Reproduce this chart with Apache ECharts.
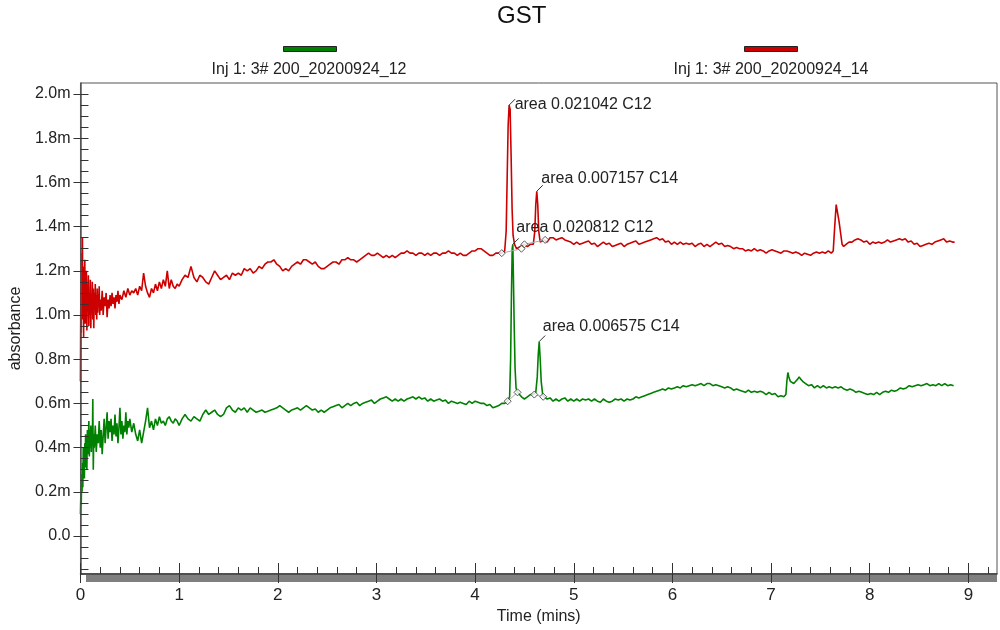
<!DOCTYPE html>
<html>
<head>
<meta charset="utf-8">
<script src="https://cdn.jsdelivr.net/npm/echarts@6/dist/echarts.min.js"></script>
<style>
html,body{margin:0;padding:0;background:#fff;}
#chart{width:1000px;height:630px;}
</style>
</head>
<body>
<div id="chart"></div>
<script>
const chartTitle = 'GST';
const greenName = 'Inj 1: 3# 200_20200924_12';
const redName = 'Inj 1: 3# 200_20200924_14';
const xName = 'Time (mins)';
const yName = 'absorbance';

const xTickValues = [0,1,2,3,4,5,6,7,8,9];
const yTickValues = [0,0.2,0.4,0.6,0.8,1.0,1.2,1.4,1.6,1.8,2.0];
const yTickLabels = ['0.0','0.2m','0.4m','0.6m','0.8m','1.0m','1.2m','1.4m','1.6m','1.8m','2.0m'];

// red trace (…_14): [time, absorbance (m)]
const redTrace = [
[0.000,0.70],[0.004,1.12],[0.008,0.92],[0.012,1.28],[0.016,1.02],[0.020,1.35],[0.024,0.98],[0.028,1.22],[0.032,0.90],[0.036,1.16],
[0.040,1.00],[0.044,1.25],[0.048,0.96],[0.052,1.12],[0.056,1.02],[0.060,1.20],[0.065,0.93],[0.070,1.14],[0.075,1.04],[0.080,1.18],
[0.085,0.95],[0.090,1.10],[0.095,1.00],[0.100,1.16],[0.105,0.94],[0.110,1.08],[0.115,1.02],[0.120,1.15],[0.125,0.98],[0.130,1.12],
[0.135,0.94],[0.140,1.10],[0.145,1.03],[0.150,1.14],[0.155,1.00],[0.160,1.09],[0.165,0.98],[0.170,1.12],[0.175,1.01],[0.180,1.08],
[0.185,1.04],[0.190,1.13],[0.195,1.00],[0.200,1.07],[0.210,1.02],[0.220,1.11],[0.230,1.00],[0.240,1.08],[0.250,1.04],[0.260,1.10],
[0.270,0.99],[0.280,1.07],[0.290,1.03],[0.300,1.09],[0.310,1.04],[0.320,1.10],[0.330,1.05],[0.340,1.08],[0.350,1.03],[0.360,1.09],
[0.370,1.06],[0.380,1.11],[0.390,1.05],[0.400,1.09],[0.420,1.07],[0.440,1.11],[0.460,1.08],[0.480,1.12],[0.500,1.09],[0.520,1.11],
[0.540,1.10],[0.560,1.12],[0.580,1.09],[0.600,1.13],[0.620,1.11],[0.640,1.19],[0.660,1.13],[0.680,1.10],[0.700,1.08],[0.720,1.12],
[0.740,1.10],[0.760,1.14],[0.780,1.11],[0.800,1.15],[0.820,1.12],[0.840,1.16],[0.860,1.13],[0.880,1.20],[0.900,1.12],[0.920,1.16],
[0.940,1.13],[0.960,1.12],[0.980,1.14],[1.000,1.13],[1.030,1.16],[1.060,1.18],[1.090,1.17],[1.120,1.22],[1.150,1.17],[1.180,1.15],
[1.210,1.18],[1.240,1.17],[1.270,1.15],[1.300,1.14],[1.330,1.17],[1.360,1.20],[1.390,1.18],[1.420,1.16],[1.450,1.17],[1.480,1.18],
[1.510,1.16],[1.540,1.19],[1.570,1.18],[1.600,1.19],[1.630,1.18],[1.660,1.21],[1.690,1.20],[1.720,1.21],[1.750,1.19],[1.780,1.20],
[1.810,1.22],[1.840,1.21],[1.870,1.23],[1.900,1.24],[1.930,1.24],[1.960,1.25],[1.990,1.23],[2.020,1.22],[2.050,1.20],[2.080,1.21],
[2.110,1.20],[2.140,1.22],[2.170,1.23],[2.200,1.24],[2.230,1.23],[2.260,1.25],[2.290,1.25],[2.320,1.24],[2.350,1.23],[2.380,1.24],
[2.410,1.22],[2.440,1.21],[2.470,1.21],[2.500,1.22],[2.530,1.23],[2.560,1.24],[2.590,1.24],[2.620,1.23],[2.650,1.25],[2.680,1.25],
[2.710,1.26],[2.740,1.25],[2.770,1.25],[2.800,1.24],[2.830,1.25],[2.860,1.26],[2.890,1.27],[2.920,1.28],[2.950,1.27],[2.980,1.27],
[3.010,1.28],[3.040,1.27],[3.070,1.26],[3.100,1.27],[3.130,1.26],[3.160,1.27],[3.190,1.26],[3.220,1.27],[3.250,1.28],[3.280,1.28],
[3.310,1.29],[3.340,1.28],[3.370,1.28],[3.400,1.27],[3.430,1.28],[3.460,1.28],[3.490,1.27],[3.520,1.28],[3.550,1.27],[3.580,1.28],
[3.610,1.28],[3.640,1.27],[3.670,1.28],[3.700,1.28],[3.730,1.29],[3.760,1.28],[3.790,1.28],[3.820,1.27],[3.850,1.28],[3.880,1.27],
[3.910,1.27],[3.940,1.28],[3.970,1.29],[4.000,1.29],[4.030,1.30],[4.060,1.30],[4.090,1.29],[4.120,1.28],[4.150,1.27],[4.180,1.27],
[4.210,1.28],[4.240,1.28],[4.270,1.28],[4.300,1.29],[4.315,1.38],[4.325,1.62],[4.335,1.86],[4.345,1.95],[4.355,1.93],[4.365,1.72],
[4.375,1.48],[4.385,1.36],[4.400,1.32],[4.420,1.30],[4.440,1.30],[4.460,1.31],[4.480,1.31],[4.500,1.32],[4.530,1.31],[4.560,1.32],
[4.590,1.32],[4.605,1.38],[4.615,1.50],[4.625,1.56],[4.635,1.50],[4.645,1.38],[4.660,1.33],[4.680,1.33],[4.700,1.34],[4.730,1.33],
[4.760,1.35],[4.790,1.35],[4.820,1.34],[4.850,1.345],[4.880,1.35],[4.910,1.34],[4.940,1.335],[4.970,1.33],[5.000,1.32],[5.030,1.33],
[5.060,1.32],[5.090,1.325],[5.120,1.33],[5.150,1.335],[5.180,1.32],[5.210,1.325],[5.240,1.31],[5.270,1.32],[5.300,1.33],[5.330,1.32],
[5.360,1.325],[5.390,1.31],[5.420,1.315],[5.450,1.32],[5.480,1.325],[5.510,1.31],[5.540,1.32],[5.570,1.325],[5.600,1.33],[5.630,1.335],
[5.660,1.32],[5.690,1.325],[5.720,1.33],[5.750,1.335],[5.780,1.34],[5.810,1.345],[5.840,1.35],[5.870,1.34],[5.900,1.345],[5.930,1.33],
[5.960,1.335],[5.990,1.32],[6.020,1.33],[6.050,1.32],[6.080,1.33],[6.110,1.32],[6.140,1.325],[6.170,1.32],[6.200,1.325],[6.230,1.31],
[6.260,1.32],[6.290,1.325],[6.320,1.31],[6.350,1.32],[6.380,1.31],[6.410,1.32],[6.440,1.33],[6.470,1.32],[6.500,1.325],[6.530,1.31],
[6.560,1.315],[6.590,1.31],[6.620,1.30],[6.650,1.305],[6.680,1.30],[6.710,1.30],[6.740,1.29],[6.770,1.295],[6.800,1.29],[6.830,1.30],
[6.860,1.29],[6.890,1.295],[6.920,1.29],[6.950,1.28],[6.980,1.29],[7.010,1.295],[7.040,1.29],[7.070,1.285],[7.100,1.28],[7.130,1.29],
[7.160,1.29],[7.190,1.285],[7.220,1.28],[7.250,1.285],[7.280,1.28],[7.310,1.27],[7.340,1.28],[7.370,1.275],[7.400,1.27],[7.430,1.28],
[7.460,1.285],[7.490,1.28],[7.520,1.285],[7.550,1.28],[7.580,1.29],[7.610,1.28],[7.630,1.29],[7.645,1.40],[7.660,1.50],[7.675,1.46],
[7.690,1.42],[7.705,1.37],[7.720,1.32],[7.735,1.31],[7.760,1.32],[7.790,1.33],[7.820,1.33],[7.850,1.34],[7.880,1.345],[7.910,1.34],
[7.940,1.33],[7.970,1.335],[8.000,1.32],[8.030,1.33],[8.060,1.325],[8.090,1.33],[8.120,1.325],[8.150,1.33],[8.180,1.34],[8.210,1.33],
[8.240,1.335],[8.270,1.34],[8.300,1.345],[8.330,1.34],[8.360,1.345],[8.390,1.33],[8.420,1.335],[8.450,1.32],[8.480,1.325],[8.510,1.31],
[8.540,1.315],[8.570,1.32],[8.600,1.325],[8.630,1.32],[8.660,1.33],[8.690,1.335],[8.720,1.34],[8.750,1.345],[8.780,1.33],[8.810,1.335],
[8.840,1.33],[8.860,1.33]
];

// green trace (…_12): [time, absorbance (m)]
const greenTrace = [
[0.000,0.10],[0.004,0.19],[0.008,0.14],[0.012,0.28],[0.016,0.20],[0.020,0.33],[0.024,0.22],[0.028,0.40],[0.032,0.28],[0.036,0.36],
[0.040,0.26],[0.044,0.42],[0.048,0.31],[0.052,0.46],[0.056,0.35],[0.060,0.40],[0.065,0.30],[0.070,0.48],[0.075,0.37],[0.080,0.44],
[0.085,0.52],[0.090,0.36],[0.095,0.48],[0.100,0.40],[0.105,0.50],[0.110,0.38],[0.115,0.47],[0.120,0.41],[0.125,0.62],[0.130,0.30],
[0.135,0.46],[0.140,0.40],[0.150,0.50],[0.160,0.38],[0.170,0.46],[0.180,0.42],[0.190,0.52],[0.200,0.40],[0.210,0.48],[0.220,0.37],
[0.230,0.45],[0.240,0.53],[0.250,0.42],[0.260,0.49],[0.270,0.56],[0.280,0.44],[0.290,0.52],[0.300,0.47],[0.310,0.53],[0.320,0.43],
[0.330,0.50],[0.340,0.46],[0.350,0.55],[0.360,0.45],[0.370,0.51],[0.380,0.42],[0.390,0.49],[0.400,0.58],[0.410,0.46],[0.420,0.52],
[0.430,0.44],[0.440,0.50],[0.450,0.47],[0.460,0.56],[0.470,0.46],[0.480,0.52],[0.490,0.49],[0.500,0.53],[0.520,0.47],[0.540,0.51],
[0.560,0.46],[0.580,0.43],[0.600,0.48],[0.620,0.42],[0.640,0.47],[0.660,0.52],[0.680,0.58],[0.700,0.49],[0.720,0.52],[0.740,0.48],
[0.760,0.53],[0.780,0.50],[0.800,0.54],[0.820,0.51],[0.840,0.52],[0.860,0.50],[0.880,0.53],[0.900,0.54],[0.920,0.52],[0.940,0.51],
[0.960,0.53],[0.980,0.52],[1.000,0.50],[1.030,0.53],[1.060,0.55],[1.090,0.53],[1.120,0.52],[1.150,0.54],[1.180,0.53],[1.210,0.52],
[1.240,0.55],[1.270,0.57],[1.300,0.55],[1.330,0.56],[1.360,0.57],[1.390,0.55],[1.420,0.54],[1.450,0.55],[1.480,0.58],[1.510,0.59],
[1.540,0.57],[1.570,0.56],[1.600,0.58],[1.630,0.57],[1.660,0.58],[1.690,0.56],[1.720,0.58],[1.750,0.57],[1.780,0.56],[1.810,0.565],
[1.840,0.57],[1.870,0.56],[1.900,0.565],[1.930,0.57],[1.960,0.575],[1.990,0.58],[2.020,0.59],[2.050,0.58],[2.080,0.57],[2.110,0.56],
[2.140,0.57],[2.170,0.575],[2.200,0.58],[2.230,0.57],[2.260,0.58],[2.290,0.59],[2.320,0.58],[2.350,0.57],[2.380,0.575],[2.410,0.56],
[2.440,0.57],[2.470,0.56],[2.500,0.57],[2.530,0.58],[2.560,0.585],[2.590,0.59],[2.620,0.595],[2.650,0.58],[2.680,0.59],[2.710,0.60],
[2.740,0.59],[2.770,0.60],[2.800,0.605],[2.830,0.59],[2.860,0.60],[2.890,0.605],[2.920,0.61],[2.950,0.615],[2.980,0.60],[3.010,0.61],
[3.040,0.62],[3.070,0.625],[3.100,0.63],[3.130,0.62],[3.160,0.61],[3.190,0.62],[3.220,0.61],[3.250,0.62],[3.280,0.61],[3.310,0.62],
[3.340,0.625],[3.370,0.63],[3.400,0.62],[3.430,0.63],[3.460,0.62],[3.490,0.625],[3.520,0.61],[3.550,0.62],[3.580,0.61],[3.610,0.615],
[3.640,0.62],[3.670,0.61],[3.700,0.615],[3.730,0.60],[3.760,0.61],[3.790,0.605],[3.820,0.60],[3.850,0.605],[3.880,0.60],[3.910,0.595],
[3.940,0.61],[3.970,0.60],[4.000,0.61],[4.030,0.605],[4.060,0.60],[4.090,0.60],[4.120,0.59],[4.150,0.595],[4.180,0.58],[4.210,0.585],
[4.240,0.59],[4.270,0.60],[4.300,0.60],[4.330,0.61],[4.350,0.63],[4.360,0.80],[4.368,1.08],[4.376,1.30],[4.382,1.32],[4.388,1.18],
[4.396,0.96],[4.405,0.76],[4.415,0.67],[4.430,0.65],[4.450,0.64],[4.470,0.63],[4.500,0.62],[4.530,0.63],[4.560,0.64],[4.590,0.64],
[4.615,0.65],[4.630,0.72],[4.640,0.82],[4.650,0.88],[4.660,0.80],[4.670,0.70],[4.685,0.64],[4.700,0.63],[4.730,0.62],[4.760,0.625],
[4.790,0.61],[4.820,0.62],[4.850,0.61],[4.880,0.62],[4.910,0.625],[4.940,0.61],[4.970,0.62],[5.000,0.61],[5.030,0.62],[5.060,0.61],
[5.090,0.62],[5.120,0.615],[5.150,0.62],[5.180,0.61],[5.210,0.62],[5.240,0.61],[5.270,0.605],[5.300,0.62],[5.330,0.61],[5.360,0.605],
[5.390,0.61],[5.420,0.62],[5.450,0.615],[5.480,0.62],[5.510,0.61],[5.540,0.62],[5.570,0.615],[5.600,0.62],[5.630,0.63],[5.660,0.625],
[5.690,0.63],[5.720,0.635],[5.750,0.64],[5.780,0.645],[5.810,0.65],[5.840,0.655],[5.870,0.66],[5.900,0.665],[5.930,0.66],[5.960,0.67],
[5.990,0.665],[6.020,0.67],[6.050,0.675],[6.080,0.67],[6.110,0.68],[6.140,0.675],[6.170,0.68],[6.200,0.685],[6.230,0.68],[6.260,0.685],
[6.290,0.69],[6.320,0.68],[6.350,0.69],[6.380,0.69],[6.410,0.68],[6.440,0.685],[6.470,0.68],[6.500,0.675],[6.530,0.67],[6.560,0.675],
[6.590,0.67],[6.620,0.66],[6.650,0.665],[6.680,0.66],[6.710,0.655],[6.740,0.65],[6.770,0.66],[6.800,0.65],[6.830,0.655],[6.860,0.65],
[6.890,0.655],[6.920,0.65],[6.950,0.64],[6.980,0.65],[7.010,0.64],[7.040,0.645],[7.070,0.63],[7.100,0.635],[7.130,0.63],[7.150,0.64],
[7.160,0.70],[7.170,0.74],[7.180,0.72],[7.195,0.70],[7.210,0.70],[7.230,0.69],[7.250,0.70],[7.270,0.71],[7.285,0.72],[7.300,0.71],
[7.320,0.70],[7.350,0.69],[7.380,0.68],[7.410,0.685],[7.440,0.67],[7.470,0.68],[7.500,0.67],[7.530,0.68],[7.560,0.67],[7.590,0.675],
[7.620,0.67],[7.650,0.675],[7.680,0.67],[7.710,0.675],[7.740,0.665],[7.770,0.66],[7.800,0.665],[7.830,0.66],[7.860,0.65],[7.890,0.655],
[7.920,0.65],[7.950,0.645],[7.980,0.64],[8.010,0.645],[8.040,0.64],[8.070,0.65],[8.100,0.64],[8.130,0.65],[8.160,0.655],[8.190,0.65],
[8.220,0.66],[8.250,0.655],[8.280,0.66],[8.310,0.67],[8.340,0.665],[8.370,0.67],[8.400,0.68],[8.430,0.675],[8.460,0.68],[8.490,0.685],
[8.520,0.68],[8.550,0.685],[8.580,0.69],[8.610,0.68],[8.640,0.685],[8.670,0.68],[8.700,0.69],[8.730,0.68],[8.760,0.69],[8.790,0.68],
[8.820,0.685],[8.850,0.68]
];

// integration baselines (start, end) of each peak
const redBaseStart = [[4.27,1.28],[4.50,1.32]];
const redBaseEnd = [[4.47,1.30],[4.71,1.34]];
const greenBaseStart = [[4.33,0.61],[4.60,0.64]];
const greenBaseEnd = [[4.43,0.65],[4.69,0.63]];

// peak annotations
const redPeakTimes = [4.345, 4.625];
const redPeakValues = [1.95, 1.56];
const redPeakTexts = ['area 0.021042 C12', 'area 0.007157 C14'];
const greenPeakTimes = [4.382, 4.65];
const greenPeakValues = [1.32, 0.88];
const greenPeakTexts = ['area 0.020812 C12', 'area 0.006575 C14'];

// ---------- styling / layout ----------
const FONT = "'Liberation Sans', Arial, sans-serif";
const RED = '#cc0000';
const GREEN = '#008000';
const redLabelOffsets = [[-4, 2], [-5, -10]];
const greenLabelOffsets = [[-6, -14], [-6, -12]];

function peakMarks(times, values, texts, offsets) {
  return times.map((t, i) => ({
    coord: [t, values[i]],
    symbol: 'path://M0,10L10,0',
    symbolSize: 6,
    symbolOffset: [3, -3],
    itemStyle: { color: 'none', borderColor: '#333', borderWidth: 1 },
    label: {
      show: true, position: 'right', distance: 1, offset: offsets[i],
      formatter: texts[i], fontSize: 16, color: '#222', fontFamily: FONT
    }
  }));
}
function baseLines(starts, ends) {
  return starts.map((s, i) => [{ coord: s }, { coord: ends[i] }]);
}
function baseMarks(starts, ends) {
  return starts.concat(ends);
}

const minorY = [];
for (let k = -3; k <= 40; k++) minorY.push(+(k * 0.05).toFixed(2));
const minorX = [];
for (let k = 0; k <= 46; k++) minorX.push(+(k * 0.2).toFixed(1));

const X_MIN = 0, X_MAX = 9.29, Y_MIN = -0.172, Y_MAX = 2.05;

const noZero = { onZero: false };

const chart = echarts.init(document.getElementById('chart'), null, { renderer: 'canvas' });
chart.setOption({
  animation: false,
  backgroundColor: '#fff',
  textStyle: { fontFamily: FONT },
  title: {
    text: chartTitle, left: 497, top: 4, padding: 0,
    textStyle: { fontSize: 24, fontWeight: 'normal', color: '#111', fontFamily: FONT }
  },
  legend: [
    { data: [greenName], left: 283, top: 46, padding: 0, itemWidth: 53, itemHeight: 5, icon: 'rect',
      formatter: () => '', selectedMode: false, itemStyle: { borderColor: '#222', borderWidth: 1 } },
    { data: [redName], left: 744, top: 46, padding: 0, itemWidth: 53, itemHeight: 5, icon: 'rect',
      formatter: () => '', selectedMode: false, itemStyle: { borderColor: '#222', borderWidth: 1 } }
  ],
  graphic: [
    { type: 'text', x: 309, y: 70, z: 10, style: { text: greenName, align: 'center', verticalAlign: 'middle', font: '16px ' + FONT, fill: '#222' } },
    { type: 'text', x: 771, y: 70, z: 10, style: { text: redName, align: 'center', verticalAlign: 'middle', font: '16px ' + FONT, fill: '#222' } },
    { type: 'rect', shape: { x: 86, y: 575, width: 911, height: 7 }, z: 1, style: { fill: '#7f7f7f' } }
  ],
  grid: { left: 79, right: 3, top: 83, bottom: 56, show: true, borderColor: '#555', borderWidth: 1, backgroundColor: 'transparent' },
  xAxis: [
    { type: 'value', min: X_MIN, max: X_MAX, position: 'bottom', z: 10,
      name: xName, nameLocation: 'middle', nameGap: 34,
      nameTextStyle: { fontSize: 16, color: '#222', fontFamily: FONT },
      axisLine: { show: true, onZero: false, lineStyle: { color: '#333', width: 1.5 } },
      axisTick: { show: true, inside: false, length: 9, customValues: xTickValues, lineStyle: { color: '#333' } },
      axisLabel: { show: true, customValues: xTickValues, margin: 13, fontSize: 17, color: '#222', fontFamily: FONT },
      splitLine: { show: false } },
    { type: 'value', min: X_MIN, max: X_MAX, position: 'bottom', z: 10,
      axisLine: { show: false, onZero: false },
      axisTick: { show: true, inside: true, length: 11, customValues: xTickValues, lineStyle: { color: '#333' } },
      axisLabel: { show: false }, splitLine: { show: false } },
    { type: 'value', min: X_MIN, max: X_MAX, position: 'bottom', z: 10,
      axisLine: { show: false, onZero: false },
      axisTick: { show: true, inside: true, length: 7, customValues: minorX, lineStyle: { color: '#333' } },
      axisLabel: { show: false }, splitLine: { show: false } }
  ],
  yAxis: [
    { type: 'value', min: Y_MIN, max: Y_MAX, position: 'left', z: 10,
      name: yName, nameLocation: 'middle', nameGap: 49, nameRotate: 90,
      nameTextStyle: { fontSize: 16, color: '#222', fontFamily: FONT },
      axisLine: { show: true, onZero: false, lineStyle: { color: '#555', width: 1.5 } },
      axisTick: { show: true, inside: false, length: 7, customValues: yTickValues, lineStyle: { color: '#333' } },
      axisLabel: { show: true, customValues: yTickValues, margin: 10, fontSize: 16, color: '#222', fontFamily: FONT,
        formatter: (v) => { const i = yTickValues.findIndex(t => Math.abs(t - v) < 1e-6); return i >= 0 ? yTickLabels[i] : ''; } },
      splitLine: { show: false } },
    { type: 'value', min: Y_MIN, max: Y_MAX, position: 'left', z: 10,
      axisLine: { show: false, onZero: false },
      axisTick: { show: true, inside: true, length: 8, customValues: minorY, lineStyle: { color: '#333' } },
      axisLabel: { show: false }, splitLine: { show: false } }
  ],
  tooltip: { show: false },
  series: [
    { name: greenName, type: 'line', xAxisIndex: 0, yAxisIndex: 0, data: greenTrace, showSymbol: false,
      color: GREEN, lineStyle: { color: GREEN, width: 1.6 }, z: 3, silent: true,
      markLine: { silent: true, symbol: 'none', label: { show: false }, lineStyle: { color: '#aaa', width: 1, type: 'solid' },
        data: baseLines(greenBaseStart, greenBaseEnd) },
      markPoint: { silent: true, data: peakMarks(greenPeakTimes, greenPeakValues, greenPeakTexts, greenLabelOffsets) } },
    { name: redName, type: 'line', xAxisIndex: 0, yAxisIndex: 0, data: redTrace, showSymbol: false,
      color: RED, lineStyle: { color: RED, width: 1.6 }, z: 3, silent: true,
      markLine: { silent: true, symbol: 'none', label: { show: false }, lineStyle: { color: '#aaa', width: 1, type: 'solid' },
        data: baseLines(redBaseStart, redBaseEnd) },
      markPoint: { silent: true, data: peakMarks(redPeakTimes, redPeakValues, redPeakTexts, redLabelOffsets) } },
    { name: 'integration marks', type: 'scatter', xAxisIndex: 0, yAxisIndex: 0, z: 5, silent: true,
      data: baseMarks(redBaseStart, redBaseEnd).concat(baseMarks(greenBaseStart, greenBaseEnd)),
      symbol: 'diamond', symbolSize: 7, itemStyle: { color: '#fff', borderColor: '#333', borderWidth: 1 } }
  ]
});
</script>
</body>
</html>
